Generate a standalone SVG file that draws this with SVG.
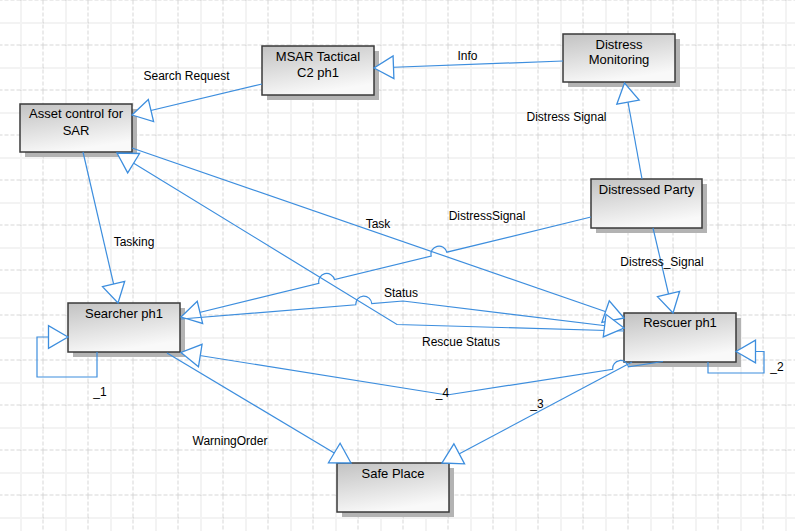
<svg xmlns="http://www.w3.org/2000/svg" width="795" height="531" viewBox="0 0 795 531">
  <defs>
    <style>
      .node rect.box { fill: url(#boxGrad); stroke: #3a3a3a; stroke-width: 1.5; }
      .node rect.shadow { fill: #b3b3b3; }
      .node text { font-family: "Liberation Sans", Arial, sans-serif; font-size: 13px; fill: #000; text-anchor: middle; }
      .conn { fill: none; stroke: #3d8ede; stroke-width: 1.2; marker-end: url(#tri); }
      .lbl { font-family: "Liberation Sans", Arial, sans-serif; font-size: 12px; fill: #000; text-anchor: middle; }
      .gdot { stroke: #d0d0d0; stroke-width: 1; stroke-dasharray: 1 1; }
      .gdash { stroke: #d6d6d6; stroke-width: 1; stroke-dasharray: 4 2; }
    </style>
    <linearGradient id="boxGrad" x1="0" y1="0" x2="0.35" y2="1">
      <stop offset="0" stop-color="#c2c2c2"/>
      <stop offset="1" stop-color="#f9f9f9"/>
    </linearGradient>
    <marker id="tri" markerUnits="userSpaceOnUse" markerWidth="24" markerHeight="26" viewBox="-20 -12 22 24" refX="0" refY="0" orient="auto" overflow="visible">
      <path d="M0,0 L-18,-10.5 L-18,10.5 Z" fill="#ffffff" stroke="#3d8ede" stroke-width="1.2" stroke-linejoin="miter"/>
    </marker>
    <pattern id="grid" patternUnits="userSpaceOnUse" x="-1.5" y="0.5" width="45" height="45">
      <line class="gdot" x1="22.5" y1="0" x2="22.5" y2="45" shape-rendering="crispEdges"/>
      <line class="gdash" x1="44.5" y1="0" x2="44.5" y2="45" shape-rendering="crispEdges"/>
      <line class="gdot" x1="0" y1="22.5" x2="45" y2="22.5" shape-rendering="crispEdges"/>
      <line class="gdash" x1="0" y1="44.5" x2="45" y2="44.5" shape-rendering="crispEdges"/>
    </pattern>
  </defs>

  <rect x="0" y="0" width="795" height="531" fill="#ffffff"/>
  <rect id="grid-bg" x="0" y="0" width="795" height="531" fill="url(#grid)"/>

  <g id="nodes">
    <g id="msar" class="node">
      <rect class="shadow" x="267" y="51" width="112" height="49"/>
      <rect class="box" x="262" y="46" width="112" height="49"/>
      <text x="318" y="61">MSAR Tactical</text>
      <text x="318" y="77">C2 ph1</text>
    </g>
    <g id="asset-control" class="node">
      <rect class="shadow" x="25" y="109" width="112" height="48"/>
      <rect class="box" x="20" y="104" width="112" height="48"/>
      <text x="76" y="118">Asset control for</text>
      <text x="76" y="134.5">SAR</text>
    </g>
    <g id="distress-monitoring" class="node">
      <rect class="shadow" x="568" y="39" width="112" height="48"/>
      <rect class="box" x="563" y="34" width="112" height="48"/>
      <text x="619" y="48.5">Distress</text>
      <text x="619" y="64">Monitoring</text>
    </g>
    <g id="distressed-party" class="node">
      <rect class="shadow" x="596" y="184" width="111" height="49"/>
      <rect class="box" x="591" y="179" width="111" height="49"/>
      <text x="646.5" y="193.5">Distressed Party</text>
    </g>
    <g id="searcher" class="node">
      <rect class="shadow" x="73" y="308" width="112" height="49"/>
      <rect class="box" x="68" y="303" width="112" height="49"/>
      <text x="124" y="318">Searcher ph1</text>
    </g>
    <g id="rescuer" class="node">
      <rect class="shadow" x="629" y="318" width="112" height="49"/>
      <rect class="box" x="624" y="313" width="112" height="49"/>
      <text x="680" y="327">Rescuer ph1</text>
    </g>
    <g id="safe-place" class="node">
      <rect class="shadow" x="342" y="468" width="112" height="49"/>
      <rect class="box" x="337" y="463" width="112" height="49"/>
      <text x="393" y="477.5">Safe Place</text>
    </g>
  </g>

  <g id="connectors">
    <path class="conn" d="M563,61 L374,68"/>
    <path class="conn" d="M262,84 L132,115"/>
    <path class="conn" d="M642,179 L624.5,83"/>
    <path class="conn" d="M653,228 L673,313"/>
    <path class="conn" d="M83,152 L118,303"/>
    <path class="conn" d="M132,148 L624,318"/>
    <path class="conn" d="M624,331 L397,324.5 L117,153"/>
    <path class="conn" d="M591,217 L446.8,252.2 A8,8 0 0,0 431.2,256 L334.5,279.6 A8,8 0 0,0 318.9,283.4 L181,317"/>
    <path class="conn" d="M181,319 L355.8,304.8 A8,8 0 0,1 371.8,303.6 L403,301 L624,328"/>
    <path class="conn" d="M632,362 L442,463"/>
    <path class="conn" d="M663,361.5 L628.5,366.9 A8,8 0 0,0 612.7,369.3 L447,395 L181,352.5"/>
    <path class="conn" d="M167,353 L351,463"/>
    <path class="conn" d="M97,352 L97,377 L37,377 L37,337 L68,337"/>
    <path class="conn" d="M708,362 L708,373 L764,373 L764,351.5 L736,351.5"/>

    <text class="lbl" x="186.5" y="79.5">Search Request</text>
    <text class="lbl" x="467.5" y="59.5">Info</text>
    <text class="lbl" x="566.5" y="121">Distress Signal</text>
    <text class="lbl" x="487" y="219.5">DistressSignal</text>
    <text class="lbl" x="378" y="228">Task</text>
    <text class="lbl" x="134" y="246">Tasking</text>
    <text class="lbl" x="662" y="266">Distress_Signal</text>
    <text class="lbl" x="401" y="297">Status</text>
    <text class="lbl" x="461" y="346">Rescue Status</text>
    <text class="lbl" x="442.5" y="397">_4</text>
    <text class="lbl" x="537" y="408">_3</text>
    <text class="lbl" x="777" y="371">_2</text>
    <text class="lbl" x="100" y="395.5">_1</text>
    <text class="lbl" x="230" y="445">WarningOrder</text>
  </g>
</svg>
